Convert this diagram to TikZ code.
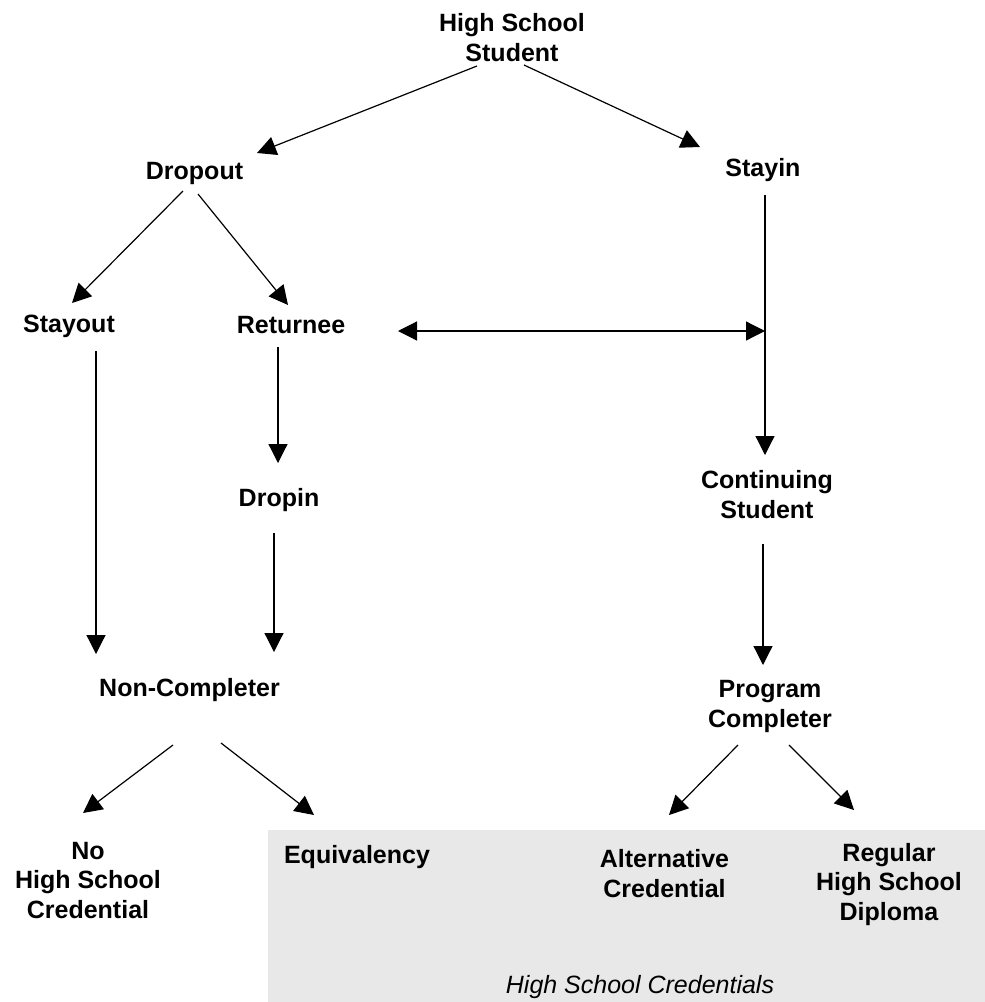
\documentclass[tikz,border=0pt]{standalone}
\usepackage{fontspec}
\setmainfont{Liberation Sans}
\usetikzlibrary{arrows.meta,calc}
\definecolor{credgray}{HTML}{E8E8E8}

\begin{document}
\begin{tikzpicture}[
  x=1pt, y=-1pt,
  every node/.style={inner sep=0pt, align=center, anchor=base,
    font=\bfseries\fontsize{25}{29.5}\selectfont},
  arr/.style={-{Triangle[length=19pt,width=19pt]}, line width=1.2pt},
  dblarr/.style={{Triangle[length=19pt,width=19pt]}-{Triangle[length=19pt,width=19pt]}, line width=1.2pt}
]
\useasboundingbox (0,0) rectangle (985,1002);
\fill[credgray] (268,830) rectangle (985,1002);

% states (base = baseline of the last line)
\node (hss)      at (512,61)    {High School\\Student};
\node (drop)     at (194.5,179) {Dropout};
\node (stayin)   at (763,176)   {Stayin};
\node (stayout)  at (69,332)    {Stayout};
\node (ret)      at (291,333)   {Returnee};
\node (dropin)   at (279,506)   {Dropin};
\node (cont)     at (767,518)   {Continuing\\Student};
\node (noncomp)  at (189.5,696) {Non-Completer};
\node (prog)     at (770,727)   {Program\\Completer};
\node (nohs)     at (88,918)    {No\\High School\\Credential};
\node (equiv)    at (357,863)   {Equivalency};
\node (alt)      at (664.5,897) {Alternative\\Credential};
\node (reg)      at (889,920)   {Regular\\High School\\Diploma};
\node[font=\itshape\fontsize{25}{29.5}\selectfont] (hsc) at (640,993) {High School Credentials};

% transitions
\coordinate (join) at ($(stayin.base)+(2,155)$);
\draw[arr] ($(hss.base)+(-35,5)$) -- ($(drop.base)+(62.5,-26)$);
\draw[arr] ($(hss.base)+(12,4)$) -- ($(stayin.base)+(-63,-29)$);
\draw[arr] ($(drop.base)+(-11.5,12)$) -- ($(stayout.base)+(3,-29)$);
\draw[arr] ($(drop.base)+(3.5,15)$) -- ($(ret.base)+(-3,-28)$);
\draw[arr] ($(stayin.base)+(2,19)$) -- (join) -- ($(cont.base)+(-2,-63)$);
\draw[dblarr] ($(ret.base)+(107,-2)$) -- (join);
\draw[arr] ($(stayout.base)+(27,19)$) -- ($(noncomp.base)+(-93.5,-42)$);
\draw[arr] ($(ret.base)+(-13,14)$) -- ($(dropin.base)+(-1,-43)$);
\draw[arr] ($(dropin.base)+(-5,27)$) -- ($(noncomp.base)+(84.5,-44)$);
\draw[arr] ($(cont.base)+(-4,26)$) -- ($(prog.base)+(-7,-62)$);
\draw[arr] ($(noncomp.base)+(-16.5,49)$) -- ($(nohs.base)+(-5,-105)$);
\draw[arr] ($(noncomp.base)+(31.5,47)$) -- ($(equiv.base)+(-43,-48)$);
\draw[arr] ($(prog.base)+(-32,18)$) -- ($(alt.base)+(4.5,-82)$);
\draw[arr] ($(prog.base)+(19,18)$) -- ($(reg.base)+(-35,-110)$);
\end{tikzpicture}
\end{document}
